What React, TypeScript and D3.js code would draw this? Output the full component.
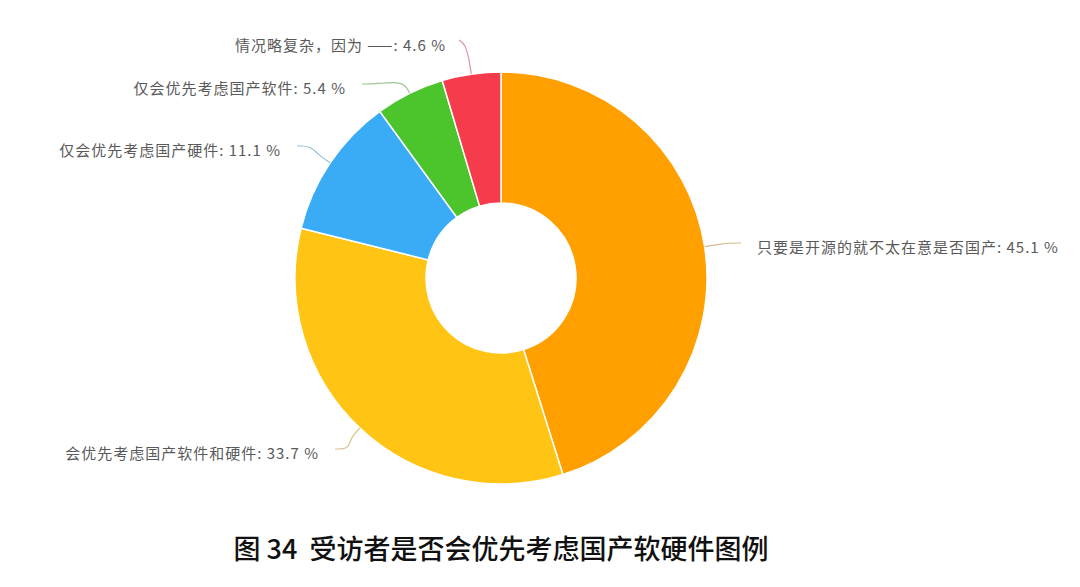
import { useEffect, useRef } from 'react'
import * as d3 from 'd3'

// slices, clockwise from 12 o'clock
const categories = [
  '只要是开源的就不太在意是否国产',
  '会优先考虑国产软件和硬件',
  '仅会优先考虑国产硬件',
  '仅会优先考虑国产软件',
  '情况略复杂，因为 ——',
]
const values = [45.1, 33.7, 11.1, 5.4, 4.6]
const colors = ['#ff9f00', '#ffc414', '#3aabf5', '#4cc52c', '#f63c4c']

// where each label's connector ends (layout only)
const labelEnds: [number, number][] = [
  [741, 243],
  [335, 449],
  [297, 146],
  [362, 84],
  [459, 40],
]

const title = '图 34  受访者是否会优先考虑国产软硬件图例'

export default function App() {
  const svgRef = useRef<SVGSVGElement | null>(null)

  useEffect(() => {
    document.body.style.margin = '0'
    const W = 1080
    const H = 587
    const svg = d3.select(svgRef.current).attr('width', W).attr('height', H)
    svg.selectAll('*').remove()

    const cx = 501
    const cy = 278
    const rOuter = 206
    const rInner = 75

    const pie = d3.pie<number>().sort(null).value(d => d)
    const arcs = pie(values)
    const arc = d3.arc<d3.PieArcDatum<number>>().innerRadius(rInner).outerRadius(rOuter)

    const g = svg.append('g').attr('transform', `translate(${cx},${cy})`)

    g.selectAll('path.slice')
      .data(arcs)
      .join('path')
      .attr('class', 'slice')
      .attr('d', arc)
      .attr('fill', (_, i) => colors[i])
      .attr('stroke', '#fff')
      .attr('stroke-width', 1.5)

    // connectors + labels
    const link = d3.line<[number, number]>().curve(d3.curveBasis)
    arcs.forEach((a, i) => {
      const mid = (a.startAngle + a.endAngle) / 2
      const p0: [number, number] = [cx + rOuter * Math.sin(mid), cy - rOuter * Math.cos(mid)]
      const p1: [number, number] = [cx + (rOuter + 14) * Math.sin(mid), cy - (rOuter + 14) * Math.cos(mid)]
      const end = labelEnds[i]
      const right = end[0] > cx
      const p2: [number, number] = i === 4 ? [p1[0] - 4, end[1] + 4] : [end[0] + (right ? -14 : 14), end[1]]
      const lineColor = d3.interpolateRgb(colors[i], '#999')(0.55)
      svg.append('path')
        .attr('d', link([p0, p1, p2, end]))
        .attr('fill', 'none')
        .attr('stroke', lineColor)
        .attr('stroke-width', 1.2)
        .attr('opacity', 0.7)

      const tx = i === 4 ? end[0] - 13 : end[0] + (right ? 16 : -16)
      const ty = i === 4 ? 47 : end[1] + 6
      svg.append('text')
        .attr('x', tx)
        .attr('y', ty)
        .attr('text-anchor', right ? 'start' : 'end')
        .attr('dominant-baseline', 'middle')
        .attr('font-family', '"Noto Sans CJK SC", "Noto Sans", sans-serif')
        .attr('font-size', 15)
        .attr('letter-spacing', 1.0)
        .attr('fill', '#5a5a5a')
        .text(`${categories[i]}: ${values[i]} %`)
    })

    svg.append('text')
      .attr('x', 501)
      .attr('y', 552)
      .attr('text-anchor', 'middle')
      .attr('dominant-baseline', 'middle')
      .attr('font-family', '"Noto Sans CJK SC", sans-serif')
      .attr('font-size', 27)
      .attr('font-weight', 500)
      .attr('fill', '#111')
      .style('white-space', 'pre')
      .text(title)
  }, [])

  return (
    <div style={{ width: 1080, height: 587, background: '#fff' }}>
      <svg ref={svgRef} style={{ display: 'block' }} />
    </div>
  )
}
